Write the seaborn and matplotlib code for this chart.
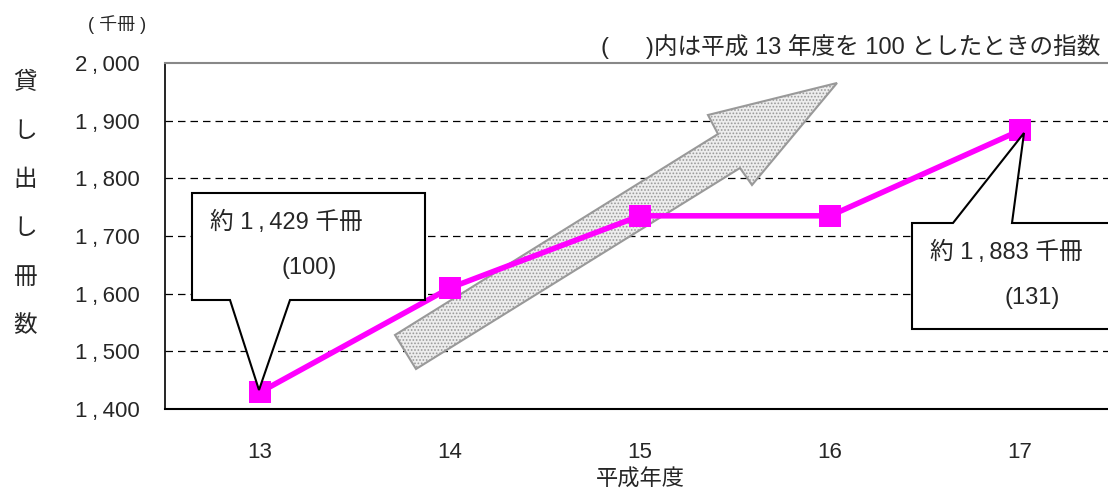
import pandas as pd
import matplotlib
matplotlib.use("Agg")
import matplotlib.pyplot as plt
from matplotlib.patches import Polygon
from matplotlib.ticker import FixedLocator, FuncFormatter
import seaborn as sns

years = ['13', '14', '15', '16', '17']
loans = [1429, 1610, 1735, 1735, 1883]
y_ticks = [1400, 1500, 1600, 1700, 1800, 1900, 2000]

df = pd.DataFrame({'年度': years, '貸出冊数': loans})

sns.set_style("white")
plt.rcParams['font.family'] = ['Liberation Sans', 'Noto Sans CJK JP', 'DejaVu Sans']
plt.rcParams['hatch.color'] = '#cacaca'
plt.rcParams['hatch.linewidth'] = 0.8
cjk = ['Noto Sans CJK JP', 'DejaVu Sans']

W, H = 1108, 495
fig = plt.figure(figsize=(W / 100, H / 100), dpi=100)
ax = fig.add_axes([165 / W, 1 - 409 / H, (1115 - 165) / W, (409 - 63) / H])


def px(pts):
    # pixel coords (top-left origin) -> figure fraction
    return [(x / W, 1 - y / H) for x, y in pts]


# big gray arrow behind the line
arrow = Polygon(px([(395, 335), (718, 134), (708, 115), (837, 83),
                    (752, 185), (740, 168), (416, 369)]),
                closed=True, transform=fig.transFigure, facecolor='#ededed',
                edgecolor='#999999', lw=1.5, hatch='.....', zorder=1, clip_on=False)
ax.add_patch(arrow)

sns.lineplot(data=df, x='年度', y='貸出冊数', color='#FF00FF', lw=4,
             marker='s', markersize=16, markeredgewidth=0, ax=ax, zorder=3)

ax.set_xlim(-0.5, 4.5)
ax.set_ylim(1400, 2000)
ax.set_yticks(y_ticks)
ax.yaxis.set_major_formatter(FuncFormatter(lambda v, p: f"{int(v):,}".replace(',', '\u2009,\u2009')))
ax.tick_params(axis='y', which='major', direction='out', length=6, width=1,
               color='black', labelsize=16, pad=12)
ax.tick_params(axis='x', which='major', length=0, labelsize=16, pad=24)
ax.xaxis.set_minor_locator(FixedLocator([0.5, 1.5, 2.5, 3.5]))
ax.tick_params(axis='x', which='minor', direction='in', length=6, width=1, color='black')

for v in y_ticks[1:-1]:
    ax.axhline(v, color='black', lw=0.9, ls=(0, (6, 4)), zorder=0)

ax.spines['left'].set_color('black')
ax.spines['bottom'].set_color('black')
ax.spines['left'].set_linewidth(1.2)
ax.spines['bottom'].set_linewidth(1.5)
ax.spines['top'].set_color('#888888')
ax.spines['top'].set_linewidth(1.5)
ax.spines['right'].set_visible(False)

ax.set_xlabel('平成年度', fontsize=16, labelpad=3, family=cjk)
ax.set_ylabel('')

# callout boxes
left_box = Polygon(px([(192, 193), (425, 193), (425, 300), (290, 300),
                       (259, 390), (230, 300), (192, 300)]),
                   closed=True, transform=fig.transFigure, facecolor='white',
                   edgecolor='black', lw=1.5, zorder=5, clip_on=False)
ax.add_patch(left_box)
right_box = Polygon(px([(912, 223), (953, 223), (1024, 133), (1012, 223),
                        (1120, 223), (1120, 329), (912, 329)]),
                    closed=True, transform=fig.transFigure, facecolor='white',
                    edgecolor='black', lw=1.5, zorder=5, clip_on=False)
ax.add_patch(right_box)

fig.text(210 / W, 1 - 222 / H, '約 1\u2009,\u2009429 千冊', fontsize=17, va='center', ha='left', zorder=6)
fig.text(309 / W, 1 - 268 / H, '(100)', fontsize=17, va='center', ha='center', zorder=6)
fig.text(930 / W, 1 - 252 / H, '約 1\u2009,\u2009883 千冊', fontsize=17, va='center', ha='left', zorder=6)
fig.text(1032 / W, 1 - 298 / H, '(131)', fontsize=17, va='center', ha='center', zorder=6)

# axis annotations
fig.text(117 / W, 1 - 25 / H, '( 千冊 )', fontsize=13, va='center', ha='center')
fig.text(1100 / W, 1 - 47 / H, '(　  )内は平成 13 年度を 100 としたときの指数',
         fontsize=17, va='center', ha='right')
for i, ch in enumerate('貸し出し冊数'):
    fig.text(25 / W, 1 - (83 + i * 48.5) / H, ch, fontsize=17, va='center', ha='center',
             family=cjk)

fig.savefig('out.png', dpi=100)
